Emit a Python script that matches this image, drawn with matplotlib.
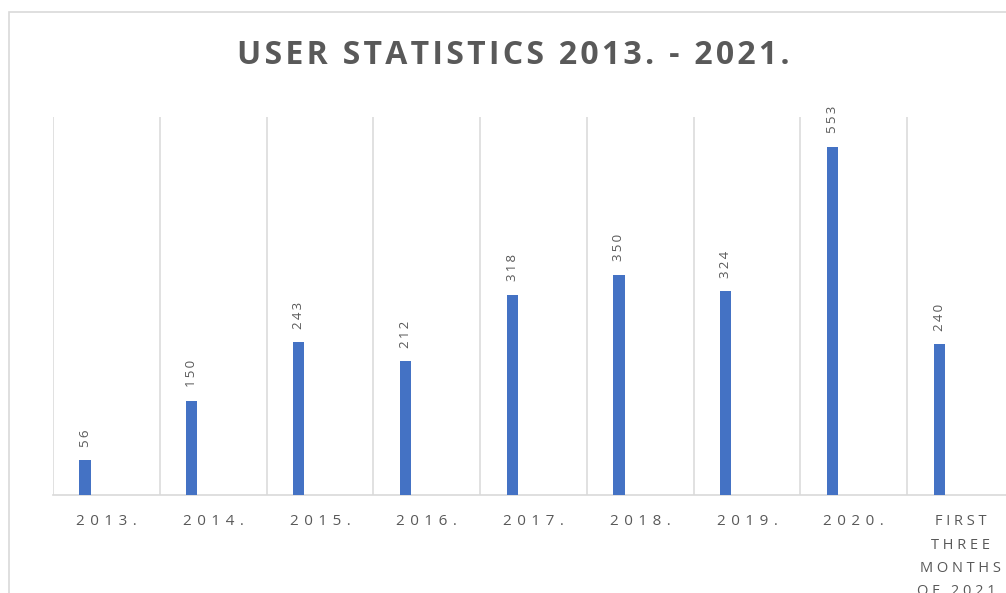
import numpy as np
import matplotlib
matplotlib.use("Agg")
import matplotlib.pyplot as plt
from matplotlib.patches import Rectangle

categories = ["2013.", "2014.", "2015.", "2016.", "2017.", "2018.", "2019.", "2020.",
              "FIRST\nTHREE\nMONTHS\nOF 2021."]
values = [56, 150, 243, 212, 318, 350, 324, 553, 240]
title = "USER STATISTICS 2013. - 2021."

def spaced(s, sep="\u2009"):
    return "\n".join(sep.join(list(line)) for line in s.split("\n"))

plt.rcParams["font.family"] = ["Open Sans", "DejaVu Sans"]

W, H = 1006, 593
fig = plt.figure(figsize=(W / 100, H / 100), dpi=100)
fig.patch.set_facecolor("white")

# outer chart border (cropped at right/bottom)
fig.patches.append(Rectangle((9 / W, -0.2), 2.0, 1.2 - 12 / H,
                             transform=fig.transFigure, fill=False,
                             edgecolor="#d9d9d9", lw=1.2))

ax = fig.add_axes([53 / W, (H - 495) / H, 961 / W, 378 / H])
x = np.arange(len(values))
ax.bar(x - 0.2, values, width=0.105, color="#4472C4", zorder=3)
ax.set_xlim(-0.5, len(values) - 0.5)
ax.set_ylim(0, 600)

for b in np.arange(len(values) + 1) - 0.5:
    ax.axvline(b, color="#d9d9d9", lw=1.1, zorder=1)

for s in ["left", "right", "top"]:
    ax.spines[s].set_visible(False)
ax.spines["bottom"].set_color("#d9d9d9")
ax.spines["bottom"].set_linewidth(1.2)
ax.set_yticks([])
ax.set_xticks(x)
labels = [spaced(c, " \u200a") if "\n" not in c else spaced(c, " ") for c in categories]
ax.set_xticklabels(labels, fontsize=11, color="#595959", linespacing=1.74)
ax.tick_params(axis="x", length=0, pad=14)
ax.get_xticklabels()[-1].set_fontsize(10.5)

for xi, v in zip(x, values):
    ax.annotate(spaced(str(v)), (xi - 0.2, v), xytext=(0, 9.5),
                textcoords="offset points", rotation=90, ha="center",
                va="bottom", fontsize=9.5, color="#595959")

fig.text(513 / W, 1 - 64 / H, spaced(title, "\u200a"), ha="center", va="baseline",
         fontsize=23, fontweight="bold", color="#595959")

fig.savefig("out.png", dpi=100, facecolor="white")
